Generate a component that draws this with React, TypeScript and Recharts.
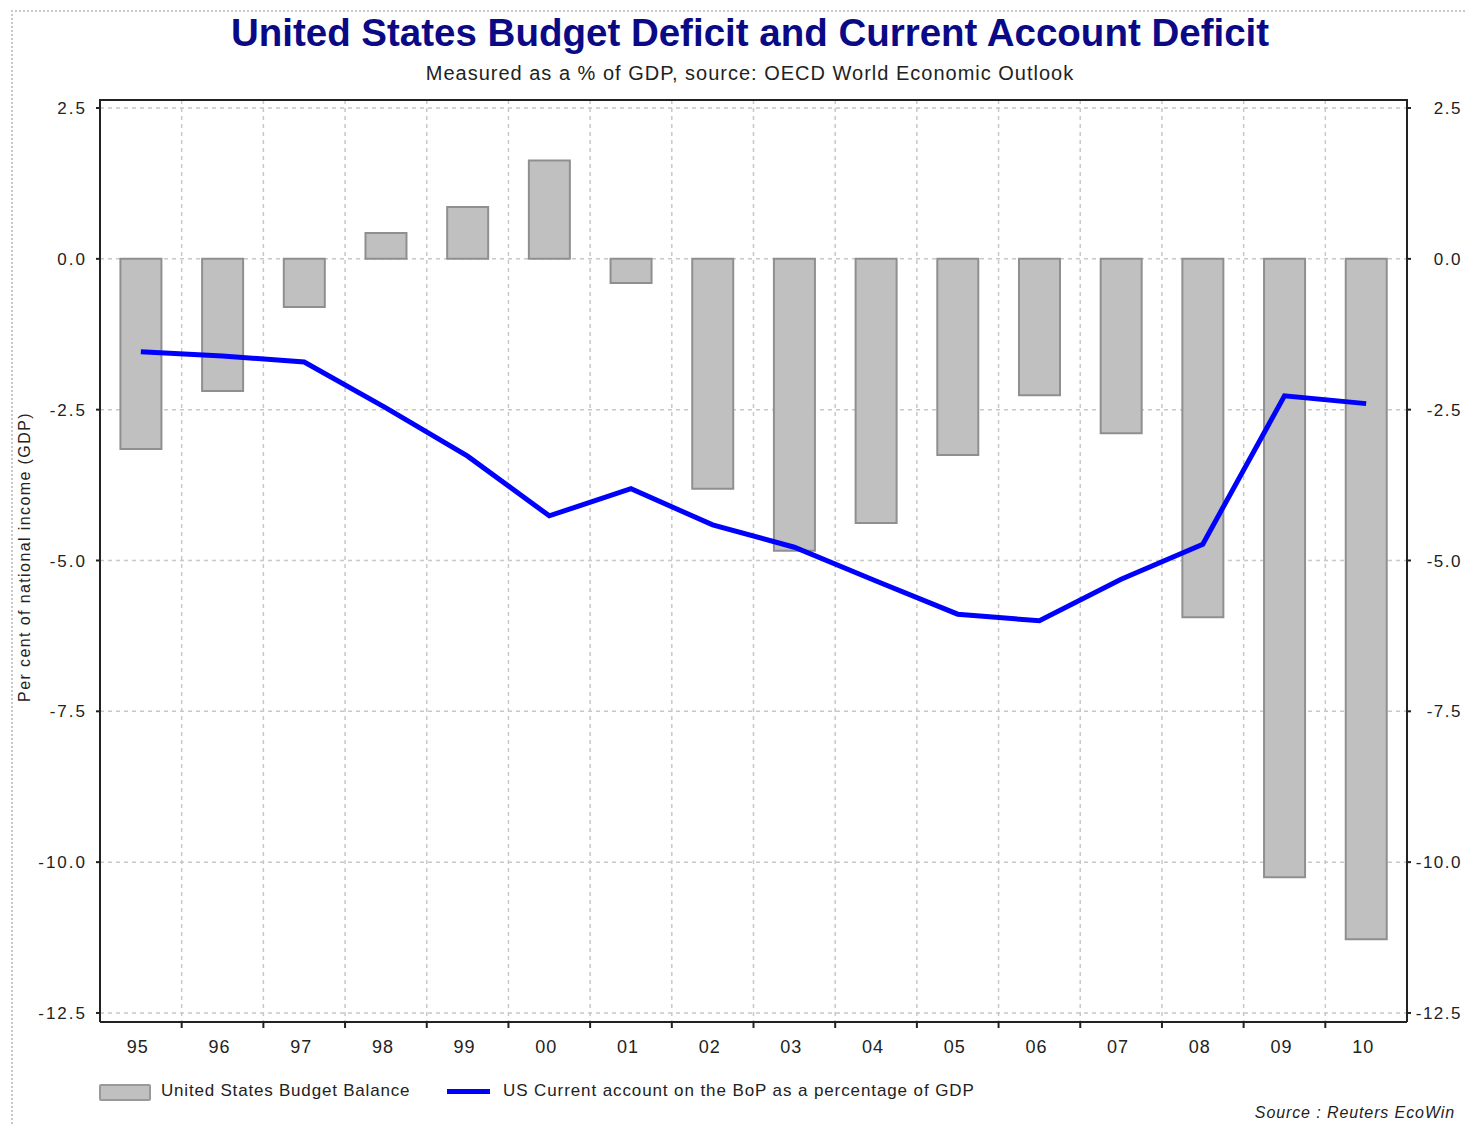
import {
  ComposedChart,
  Bar,
  Line,
  XAxis,
  YAxis,
  CartesianGrid,
} from 'recharts';

const years = ['95', '96', '97', '98', '99', '00', '01', '02', '03', '04', '05', '06', '07', '08', '09', '10'];
const budgetBalance = [-3.15, -2.19, -0.8, 0.43, 0.86, 1.63, -0.4, -3.81, -4.84, -4.38, -3.25, -2.26, -2.89, -5.94, -10.25, -11.28];
const currentAccount = [-1.54, -1.61, -1.71, -2.47, -3.27, -4.26, -3.81, -4.41, -4.78, -5.34, -5.89, -6.0, -5.31, -4.73, -2.27, -2.4];
const yTicks = [2.5, 0, -2.5, -5, -7.5, -10, -12.5];

const data = years.map((year, i) => ({
  year,
  budget: budgetBalance[i],
  current: currentAccount[i],
}));

const FONT = '"Liberation Sans", Arial, sans-serif';
const AXIS = '#222';

// year label at the band centre, tick mark at the band's right edge
const YearTick = (props: any) => {
  const { x, y, payload, index } = props;
  const half = payload.offset ?? 0;
  const axisY = y - 18;
  return (
    <g>
      {index < years.length - 1 && (
        <line x1={x + half} x2={x + half} y1={axisY} y2={axisY + 6} stroke={AXIS} strokeWidth={2} />
      )}
      <text x={x - 3} y={y} dy="0.71em" textAnchor="middle" fontSize={18} letterSpacing={1} fill={AXIS} fontFamily={FONT}>
        {payload.value}
      </text>
    </g>
  );
};

const RightTick = (props: any) => {
  const { x, y, payload } = props;
  return (
    <text x={x + 47} y={y} dy="0.355em" textAnchor="end" fontSize={17} letterSpacing={1.5} fill={AXIS} fontFamily={FONT}>
      {Number(payload.value).toFixed(1)}
    </text>
  );
};

// dashed verticals on the category boundaries
const boundaryLines = ({ offset }: any) => {
  const band = offset.width / years.length;
  return years.slice(1).map((_, i) => offset.left + band * (i + 1));
};

export default function App() {
  return (
    <div style={{ position: 'absolute', left: 0, top: 0, width: 1466, height: 1124, background: '#fff', fontFamily: FONT, overflow: 'hidden' }}>
      <div style={{ position: 'absolute', left: 11, top: 10, width: 1500, height: 1200, borderLeft: '2px dotted #c8c8c8', borderTop: '2px dotted #c8c8c8' }} />

      <div style={{ position: 'absolute', left: 0, width: 1500, top: 11, textAlign: 'center', fontSize: 38.5, fontWeight: 'bold', color: '#0a0a86', lineHeight: '44px' }}>
        United States Budget Deficit and Current Account Deficit
      </div>
      <div style={{ position: 'absolute', left: 0, width: 1500, top: 61, textAlign: 'center', fontSize: 20, letterSpacing: 1, color: '#222', lineHeight: '24px' }}>
        Measured as a % of GDP, source: OECD World Economic Outlook
      </div>

      <div style={{ position: 'absolute', left: 25, top: 557, transform: 'translate(-50%, -50%) rotate(-90deg)', whiteSpace: 'nowrap', fontSize: 16, letterSpacing: 1.4, color: '#222' }}>
        Per cent of national income (GDP)
      </div>

      <div style={{ position: 'absolute', left: 0, top: 0 }}>
        <ComposedChart
          width={1466}
          height={1124}
          data={data}
          margin={{ top: 100, right: 5, bottom: 62, left: 40 }}
          barCategoryGap="25%"
        >
          <CartesianGrid
            xAxisId="cat"
            yAxisId="left"
            stroke="#c8c8c8"
            strokeWidth={1.5}
            strokeDasharray="4 4"
            verticalCoordinatesGenerator={boundaryLines}
          />
          <XAxis
            xAxisId="cat"
            dataKey="year"
            height={40}
            tickSize={6}
            tickMargin={12}
            axisLine={{ stroke: AXIS, strokeWidth: 2 }}
            tickLine={false}
            interval={0}
            tick={<YearTick />}
          />
          <YAxis
            yAxisId="left"
            domain={[-12.65, 2.633]}
            allowDataOverflow
            ticks={yTicks}
            interval={0}
            width={60}
            tickSize={4}
            tickMargin={9}
            tickFormatter={(v: number) => v.toFixed(1)}
            tick={{ fontSize: 17, fill: AXIS, fontFamily: FONT, letterSpacing: 2 }}
            axisLine={{ stroke: AXIS, strokeWidth: 2 }}
            tickLine={{ stroke: AXIS, strokeWidth: 2 }}
          />
          <YAxis
            yAxisId="right"
            orientation="right"
            domain={[-12.65, 2.633]}
            allowDataOverflow
            ticks={yTicks}
            interval={0}
            width={54}
            tickSize={4}
            tickMargin={4}
            tick={<RightTick />}
            axisLine={{ stroke: AXIS, strokeWidth: 2 }}
            tickLine={{ stroke: AXIS, strokeWidth: 2 }}
          />
          <Bar
            xAxisId="cat"
            yAxisId="left"
            dataKey="budget"
            fill="#c0c0c0"
            stroke="#8f8f8f"
            strokeWidth={2}
            isAnimationActive={false}
          />
          <Line
            xAxisId="cat"
            yAxisId="left"
            dataKey="current"
            type="linear"
            stroke="#0000ff"
            strokeWidth={5}
            dot={false}
            activeDot={false}
            isAnimationActive={false}
          />
        </ComposedChart>
      </div>

      <div style={{ position: 'absolute', left: 99, top: 99, width: 1309, height: 2, background: AXIS }} />

      <div style={{ position: 'absolute', left: 99, top: 1084, width: 48, height: 13, background: '#c0c0c0', border: '2px solid #999', borderRadius: 2, boxSizing: 'content-box' }} />
      <div style={{ position: 'absolute', left: 161, top: 1081, fontSize: 17, color: '#222', lineHeight: '20px', letterSpacing: 0.8, whiteSpace: 'nowrap' }}>
        United States Budget Balance
      </div>
      <div style={{ position: 'absolute', left: 447, top: 1089, width: 43, height: 5, background: '#0000ff' }} />
      <div style={{ position: 'absolute', left: 503, top: 1081, fontSize: 17, color: '#222', lineHeight: '20px', letterSpacing: 0.9, whiteSpace: 'nowrap' }}>
        US Current account on the BoP as a percentage of GDP
      </div>
      <div style={{ position: 'absolute', right: 11, top: 1103, fontSize: 16, fontStyle: 'italic', color: '#222', lineHeight: '20px', letterSpacing: 0.9, whiteSpace: 'nowrap' }}>
        Source : Reuters EcoWin
      </div>
    </div>
  );
}
